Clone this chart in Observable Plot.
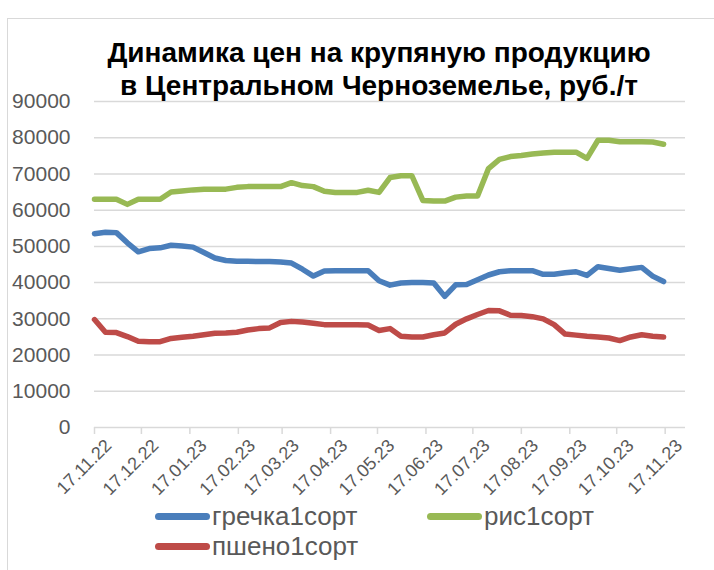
<!DOCTYPE html>
<html><head><meta charset="utf-8">
<script src="https://cdn.jsdelivr.net/npm/d3@7"></script>
<script src="https://cdn.jsdelivr.net/npm/@observablehq/plot@0.6"></script>
<style>
body{margin:0;background:#fff;}
#wrap{position:relative;width:714px;height:570px;overflow:hidden;font-family:"Liberation Sans",Arial,sans-serif;background:#fff;}
#frame{position:absolute;left:7px;top:18px;width:800px;height:700px;border-left:1px solid #d9d9d9;border-top:1px solid #d9d9d9;}
#title{position:absolute;left:0;width:758px;top:36px;text-align:center;font-weight:bold;font-size:28px;line-height:33px;color:#000;}
#chart{position:absolute;left:0;top:0;}
.leg{position:absolute;display:flex;align-items:center;font-size:26px;color:#595959;height:30px;}
.leg span.sw{display:inline-block;width:55px;height:7px;border-radius:3.5px;margin-right:2px;}
</style></head>
<body>
<div id="wrap">
  <div id="frame"></div>
  <div id="chart"></div>
  <div id="title">Динамика цен на крупяную продукцию<br>в Центральном Черноземелье, руб./т</div>
  <div id="legend"></div>
</div>
<script>
const dates = ["2022-11-17","2022-11-24","2022-12-01","2022-12-08","2022-12-15","2022-12-22","2022-12-29",
"2023-01-05","2023-01-12","2023-01-19","2023-01-26","2023-02-02","2023-02-09","2023-02-16","2023-02-23",
"2023-03-02","2023-03-09","2023-03-16","2023-03-23","2023-03-30","2023-04-06","2023-04-13","2023-04-20","2023-04-27",
"2023-05-04","2023-05-11","2023-05-18","2023-05-25","2023-06-01","2023-06-08","2023-06-15","2023-06-22","2023-06-29",
"2023-07-06","2023-07-13","2023-07-20","2023-07-27","2023-08-03","2023-08-10","2023-08-17","2023-08-24","2023-08-31",
"2023-09-07","2023-09-14","2023-09-21","2023-09-28","2023-10-05","2023-10-12","2023-10-19","2023-10-26",
"2023-11-02","2023-11-09","2023-11-16"];
const grechka = [53500,53900,53800,51000,48500,49400,49600,50300,50100,49800,48300,46800,46100,45900,45900,45800,45800,45700,45400,43700,41800,43200,43300,43300,43300,43300,40500,39300,39900,40000,40000,39900,36200,39400,39500,40800,42100,43000,43300,43300,43300,42300,42300,42700,43000,42000,44400,43900,43400,43800,44200,41800,40300];
const ris = [63000,63000,63000,61600,63000,63000,63000,65000,65300,65600,65800,65800,65800,66300,66500,66500,66500,66500,67600,66800,66500,65200,64900,64900,64900,65500,64900,69000,69500,69500,62700,62500,62500,63600,63900,63900,71500,74000,74800,75100,75500,75800,76000,76000,76000,74300,79300,79300,78900,78900,78900,78800,78200];
const psheno = [29800,26300,26200,25100,23800,23700,23700,24600,24900,25200,25600,26000,26100,26300,26900,27300,27500,29000,29300,29100,28800,28400,28400,28400,28400,28300,26800,27300,25200,25000,25000,25600,26100,28500,30000,31200,32300,32200,31000,30900,30600,30000,28400,25800,25500,25200,25000,24700,24000,25000,25600,25200,25000];
const seriesNames = ["гречка1сорт","рис1сорт","пшено1сорт"];
const seriesColors = ["#4a7ebb","#98b954","#be4b48"];
const yTicks = [0,10000,20000,30000,40000,50000,60000,70000,80000,90000];
const xTickLabels = ["17.11.22","17.12.22","17.01.23","17.02.23","17.03.23","17.04.23","17.05.23","17.06.23","17.07.23","17.08.23","17.09.23","17.10.23","17.11.23"];

const parseLabel = s => { const [d,m,y] = s.split("."); return new Date(Date.UTC(2000+ +y, +m-1, +d)); };
const xTicks = xTickLabels.map(parseLabel);
const rows = [];
[grechka, ris, psheno].forEach((arr, k) => arr.forEach((v, i) => rows.push({date: new Date(dates[i]), value: v, series: seriesNames[k]})));

const chart = Plot.plot({
  width: 714, height: 570,
  marginLeft: 94, marginRight: 29, marginTop: 101, marginBottom: 143,
  style: {fontFamily: '"Liberation Sans", Arial, sans-serif', background: "transparent", overflow: "visible"},
  x: {type: "utc", domain: [new Date("2022-11-17"), new Date("2023-11-30")], axis: null},
  y: {type: "linear", domain: [0, 90000], axis: null},
  color: {domain: seriesNames, range: seriesColors},
  marks: [
    Plot.gridY(yTicks, {stroke: "#d9d9d9", strokeOpacity: 1, strokeWidth: 1.5}),
    Plot.axisX(xTicks, {tickSize: 7, stroke: "#d9d9d9", strokeWidth: 1.5, tickFormat: () => "", label: null}),
    Plot.axisY(yTicks, {tickSize: 0, tickPadding: 24, fontSize: 21, fill: "#595959", tickFormat: d => String(d), label: null}),
    Plot.line(rows, {x: "date", y: "value", z: "series", stroke: "series", strokeWidth: 5.5, strokeLinejoin: "round", strokeLinecap: "round"}),
    Plot.text(xTickLabels, {x: parseLabel, y: () => 0, text: d => d, rotate: -45, textAnchor: "end", lineAnchor: "middle", dx: 14, dy: 15, fontSize: 18, fill: "#595959"})
  ]
});
document.getElementById("chart").appendChild(chart);

const legendItems = [
  {name: seriesNames[0], color: seriesColors[0], left: 155, top: 501},
  {name: seriesNames[1], color: seriesColors[1], left: 427, top: 501},
  {name: seriesNames[2], color: seriesColors[2], left: 155, top: 531}
];
const legend = document.getElementById("legend");
legendItems.forEach(it => {
  const d = document.createElement("div");
  d.className = "leg";
  d.style.left = it.left + "px";
  d.style.top = it.top + "px";
  const sw = document.createElement("span");
  sw.className = "sw";
  sw.style.background = it.color;
  d.appendChild(sw);
  d.appendChild(document.createTextNode(it.name));
  legend.appendChild(d);
});
</script>
</body></html>
